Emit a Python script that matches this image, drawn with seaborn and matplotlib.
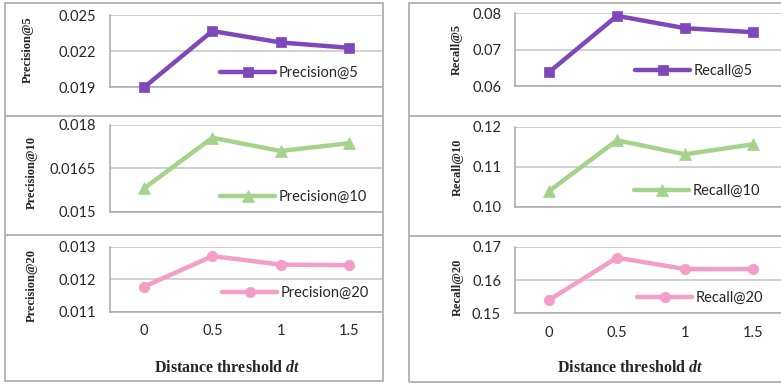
import matplotlib
matplotlib.use("Agg")
import matplotlib.pyplot as plt
from matplotlib.patches import Rectangle
from matplotlib.lines import Line2D
import seaborn as sns
import pandas as pd

# Distance threshold values (x categories)
dt_labels = ["0", "0.5", "1", "1.5"]

# Metric values per threshold
precision_5 = [0.0190, 0.02367, 0.02272, 0.02228]
precision_10 = [0.01581, 0.01756, 0.01710, 0.01737]
precision_20 = [0.01177, 0.01271, 0.01245, 0.01243]
recall_5 = [0.0638, 0.0793, 0.0759, 0.0748]
recall_10 = [0.1039, 0.1166, 0.1131, 0.1156]
recall_20 = [0.1540, 0.1667, 0.1633, 0.1633]

# Y tick values and their labels
p5_ticks, p5_labels = [0.019, 0.022, 0.025], ["0.019", "0.022", "0.025"]
p10_ticks, p10_labels = [0.015, 0.0165, 0.018], ["0.015", "0.0165", "0.018"]
p20_ticks, p20_labels = [0.011, 0.012, 0.013], ["0.011", "0.012", "0.013"]
r5_ticks, r5_labels = [0.06, 0.07, 0.08], ["0.06", "0.07", "0.08"]
r10_ticks, r10_labels = [0.10, 0.11, 0.12], ["0.10", "0.11", "0.12"]
r20_ticks, r20_labels = [0.15, 0.16, 0.17], ["0.15", "0.16", "0.17"]

sns.set_style("white")
plt.rcParams["font.family"] = ["Lato", "DejaVu Sans"]
plt.rcParams["mathtext.fontset"] = "custom"
plt.rcParams["mathtext.rm"] = "Liberation Serif:bold"
plt.rcParams["mathtext.bfit"] = "Liberation Serif:italic:bold"

W, H = 781, 384
fig = plt.figure(figsize=(W / 100, H / 100), dpi=100)
fig.patch.set_facecolor("white")

PURPLE = "#7F47BA"
GREEN = "#A5D38C"
PINK = "#F39DC8"
SPINE = "#A8A8A8"
GRID = "#C4C4C4"
BORDER = "#B4B4B4"
TEXT = "#262626"


def fx(x):
    return x / W


def fy(y):
    return 1 - y / H


def make_axes(x0, x1, ytop, ybot):
    ax = fig.add_axes([fx(x0), fy(ybot), (x1 - x0) / W, (ybot - ytop) / H])
    ax.patch.set_alpha(0)
    return ax


def draw_panel(ax, values, name, color, marker, msize, ticks, tlabels,
               legend_xy, show_xlabels):
    df = pd.DataFrame({"pos": range(len(dt_labels)), "value": values})
    sns.lineplot(data=df, x="pos", y="value", ax=ax, color=color,
                 marker=marker, markersize=msize, markeredgecolor=color,
                 markeredgewidth=0.5, linewidth=3.2, label=name,
                 clip_on=False, zorder=5)
    lo, hi = ticks[0], ticks[-1]
    ax.set_xlim(-0.5, len(dt_labels) - 0.5)
    ax.set_ylim(lo, hi)
    ax.set_xticks(range(len(dt_labels)))
    ax.set_xticklabels(dt_labels if show_xlabels else [])
    ax.set_xticks([i - 0.5 for i in range(len(dt_labels) + 1)], minor=True)
    ax.tick_params(axis="x", which="major", length=0, pad=9,
                   labelsize=10.5, labelcolor=TEXT)
    ax.tick_params(axis="x", which="minor", length=3, width=1,
                   color=SPINE, direction="out")
    ax.set_yticks(ticks)
    ax.set_yticklabels(tlabels)
    step = ticks[1] - ticks[0]
    ax.set_yticks([t + step / 2 for t in ticks[:-1]], minor=True)
    ax.tick_params(axis="y", which="both", length=3, width=1, color=SPINE,
                   direction="out", pad=7, labelsize=10.5, labelcolor=TEXT)
    ax.yaxis.grid(True, which="major", color=GRID, linewidth=1.1)
    ax.set_axisbelow(True)
    for s in ("top", "right"):
        ax.spines[s].set_visible(False)
    for s in ("left", "bottom"):
        ax.spines[s].set_color(SPINE)
        ax.spines[s].set_linewidth(1.1)
    ax.set_xlabel("")
    ax.set_ylabel("")
    handles, labels = ax.get_legend_handles_labels()
    ax.legend(handles, labels, loc="center left",
              bbox_to_anchor=(fx(legend_xy[0]), fy(legend_xy[1])),
              bbox_transform=fig.transFigure, frameon=False,
              handlelength=3.8, handletextpad=0.25, borderpad=0,
              borderaxespad=0, fontsize=10.5, labelcolor=TEXT)


# Outer boxes with separators
for (x0, x1, y0, y1, seps) in [(5, 383, 3, 381, (116, 234.5)),
                               (409, 795, 3, 382, (116, 236))]:
    fig.add_artist(Rectangle((fx(x0), fy(y1)), (x1 - x0) / W, (y1 - y0) / H,
                             transform=fig.transFigure, fill=False,
                             edgecolor=BORDER, linewidth=1.4, zorder=3))
    for s in seps:
        fig.add_artist(Line2D([fx(x0), fx(x1)], [fy(s), fy(s)],
                              transform=fig.transFigure, color=BORDER,
                              linewidth=1.4, zorder=3))

panels = [
    # x0, x1, ytop, ybot, values, name, color, marker, size, ticks, labels, legend, xlabels
    (110, 383, 15, 87.3, precision_5, "Precision@5", PURPLE, "s", 7, p5_ticks, p5_labels, (220, 73), False),
    (110, 383, 125, 211.7, precision_10, "Precision@10", GREEN, "^", 8, p10_ticks, p10_labels, (220, 197), False),
    (110, 383, 246.7, 311.7, precision_20, "Precision@20", PINK, "o", 7.5, p20_ticks, p20_labels, (222, 293), True),
    (515, 787, 13.3, 86, recall_5, "Recall@5", PURPLE, "s", 7, r5_ticks, r5_labels, (635, 71), False),
    (515, 787, 126.7, 206.7, recall_10, "Recall@10", GREEN, "^", 8, r10_ticks, r10_labels, (634, 191), False),
    (515, 787, 246.7, 313.3, recall_20, "Recall@20", PINK, "o", 7.5, r20_ticks, r20_labels, (637, 298), True),
]

for (x0, x1, yt, yb, vals, name, col, mk, ms, tks, tls, lxy, showx) in panels:
    ax = make_axes(x0, x1, yt, yb)
    draw_panel(ax, vals, name, col, mk, ms, tks, tls, lxy, showx)

# Vertical axis titles
ylabels = [
    ("Precision@5", 28, 50), ("Precision@10", 32, 173), ("Precision@20", 32, 285),
    ("Recall@5", 457, 49), ("Recall@10", 458, 167), ("Recall@20", 458, 287),
]
for text, x, y in ylabels:
    fig.text(fx(x), fy(y), text, rotation=90, ha="center", va="center",
             family="Liberation Serif", weight="bold", fontsize=9, color=TEXT)

# Horizontal axis titles
for x in (227, 630):
    fig.text(fx(x), fy(368), r"Distance threshold $\mathbfit{dt}$",
             ha="center", va="center", family="Liberation Serif",
             weight="bold", fontsize=11.5, color=TEXT)

fig.savefig("out.png", dpi=100, facecolor="white")
